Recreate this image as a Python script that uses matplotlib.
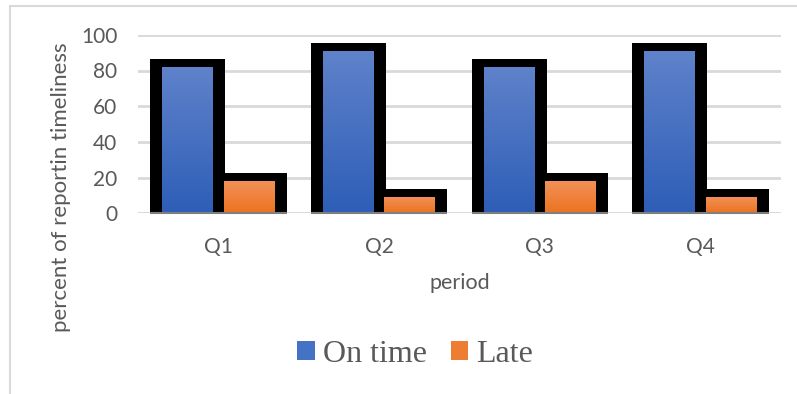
import numpy as np
import matplotlib.pyplot as plt
from matplotlib.colors import LinearSegmentedColormap
from matplotlib.patches import Patch

periods = ['Q1', 'Q2', 'Q3', 'Q4']
on_time = [82, 91, 82, 91]
late = [18, 9, 18, 9]

gray_txt = '#595959'
sans = 'Lato'

fig = plt.figure(figsize=(7.97, 3.94), dpi=100)
ax = fig.add_axes([138 / 797, 1 - 213.3 / 394, 643 / 797, 178.5 / 394])

x = np.arange(len(periods))
off = 0.1915      # half distance between the two bar centres
inner_w = 0.317
outer_w = 0.467
top_pad = 4.5

blue_cm = LinearSegmentedColormap.from_list('b', ['#2e5eb7', '#5f82ca'])
orange_cm = LinearSegmentedColormap.from_list('o', ['#ec7320', '#f3915a'])

for vals, shift, cm in [(on_time, -off, blue_cm), (late, off, orange_cm)]:
    # thick black frame behind the filled bar
    ax.bar(x + shift, np.array(vals) + top_pad, width=outer_w, color='black', zorder=2)
    bars = ax.bar(x + shift, vals, width=inner_w, color='none', zorder=3)
    for b in bars:
        x0, w, h = b.get_x(), b.get_width(), b.get_height()
        grad = np.linspace(1, 0, 100).reshape(-1, 1)
        im = ax.imshow(grad, cmap=cm, aspect='auto', extent=(x0, x0 + w, 0, h),
                       zorder=3, interpolation='bilinear')
        im.set_clip_path(b)

# axis line: dark under the bar groups, light elsewhere
ax.axhline(0, color='#d9d9d9', lw=2, zorder=1)
ax.hlines([0] * len(x), x - off - outer_w / 2, x + off + outer_w / 2,
          color='#7f7f7f', lw=1.5, zorder=4, clip_on=False)

ax.set_xlim(-0.5, len(periods) - 0.5)
ax.set_ylim(0, 100)
ax.set_yticks([0, 20, 40, 60, 80, 100])
ax.yaxis.grid(True, color='#d9d9d9', lw=2)
ax.set_axisbelow(True)
ax.set_xticks(x)
ax.set_xticklabels(periods)
for s in ax.spines.values():
    s.set_visible(False)
ax.tick_params(length=0, labelsize=15, labelcolor=gray_txt)
ax.tick_params(axis='y', pad=15)
ax.tick_params(axis='x', pad=17)
for t in ax.get_xticklabels() + ax.get_yticklabels():
    t.set_fontfamily(sans)

fig.text(460 / 797, 1 - 283 / 394, 'period', ha='center', va='center',
         fontsize=15.5, color=gray_txt, family=sans)
fig.text(61 / 797, 1 - 187.5 / 394, 'percent of reportin timeliness', ha='center',
         va='center', rotation=90, fontsize=16, color=gray_txt, family=sans)

handles = [Patch(facecolor='#4472c4', edgecolor='none', label='On time'),
           Patch(facecolor='#ed7d31', edgecolor='none', label='Late')]
fig.legend(handles=handles, loc='center', bbox_to_anchor=(415 / 797, 1 - 354 / 394),
           ncol=2, frameon=False, handlelength=0.55, handleheight=0.55,
           handletextpad=0.25, columnspacing=0.75,
           prop={'family': 'Liberation Serif', 'size': 23}, labelcolor=gray_txt)

# light chart frame
fig.add_artist(plt.Line2D([10 / 797, 10 / 797], [0, 1 - 6 / 394], color='#d9d9d9', lw=1.5))
fig.add_artist(plt.Line2D([10 / 797, 1], [1 - 6 / 394, 1 - 6 / 394], color='#d9d9d9', lw=1.5))

fig.savefig('out.png', dpi=100)
